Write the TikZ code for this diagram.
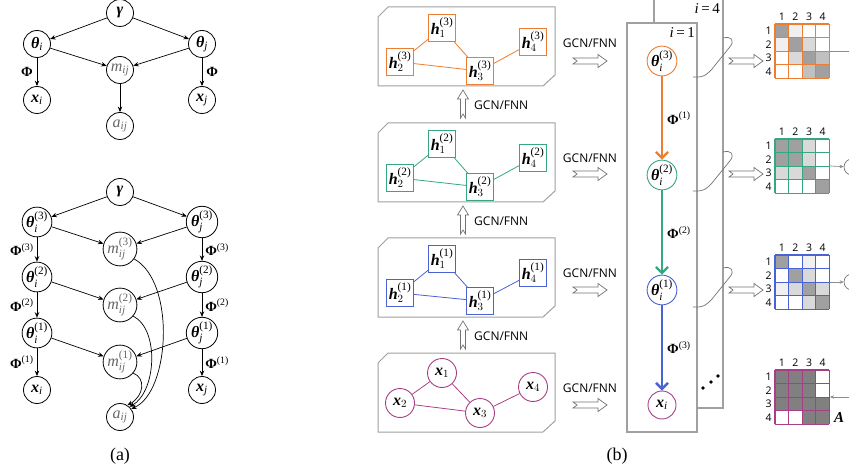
\documentclass[tikz,border=0pt]{standalone}
\usepackage{amsmath}
\usepackage{fontspec}
\setmainfont{Liberation Serif}
\newfontfamily\uisans{Open Sans}
\usetikzlibrary{arrows.meta}

% symbols set in the text face: bold italic vectors, italic indices
\newcommand\bv[1]{\text{\bfseries\itshape #1}}
\newcommand\tv[1]{\text{\itshape #1}}
\newcommand\bu[1]{\text{\bfseries #1}}
\newcommand\lay[1]{\text{(#1)}}

\definecolor{cor}{HTML}{ED7D31}
\definecolor{cgr}{HTML}{35A883}
\definecolor{cbl}{HTML}{4A62D2}
\definecolor{cpu}{HTML}{A83E86}
\definecolor{plate}{HTML}{A0A0A0}
\definecolor{mw}{HTML}{FFFFFF}
\definecolor{mv}{HTML}{F0F0F0}
\definecolor{ml}{HTML}{D9D9D9}
\definecolor{mm}{HTML}{C0C0C0}
\definecolor{md}{HTML}{A0A0A0}
\definecolor{mp}{HTML}{808080}

% 4x4 adjacency grid: #1 name, #2 x0, #3 y0, #4 colour, #5 cell fills
\newcommand\cellgrid[5]{%
  \foreach \fc [count=\k from 0] in {#5}{%
    \pgfmathtruncatemacro\rr{div(\k,4)}%
    \pgfmathtruncatemacro\cc{mod(\k,4)}%
    \fill[\fc] ({#2+\cc*13.6},{#3+\rr*13.6}) rectangle ++(13.6,13.6);
  }%
  \foreach \s in {0,...,4}{%
    \draw[draw=#4,line width=1.1pt] ({#2+\s*13.6},#3) -- ({#2+\s*13.6},{#3+54.4});
    \draw[draw=#4,line width=1.1pt] (#2,{#3+\s*13.6}) -- ({#2+54.4},{#3+\s*13.6});
  }%
  \foreach \j in {1,...,4}{%
    \node[idx] (#1c\j) at ({#2+(\j-0.5)*13.6},{#3-7.5}) {\j};
    \node[idx] (#1r\j) at ({#2-6.5},{#3+(\j-0.5)*13.6}) {\j};
  }%
}

\tikzset{
  pn/.style={circle,draw,line width=0.8pt,minimum size=27pt,inner sep=0pt,
    font=\fontsize{16}{16}\selectfont},
  gv/.style={text=black!60},
  ed/.style={-{Stealth[length=5.5pt,width=4.5pt]},line width=0.7pt},
  phil/.style={font=\fontsize{14}{14}\selectfont,inner sep=1pt},
  hb/.style={draw=#1,line width=0.9pt,fill=white,minimum size=27pt,inner sep=0pt,
    font=\fontsize{16}{16}\selectfont},
  xb/.style={circle,draw=#1,line width=0.9pt,fill=white,minimum size=29pt,inner sep=0pt,
    font=\fontsize{16}{16}\selectfont},
  tb/.style={circle,draw=#1,line width=0.9pt,fill=white,minimum size=28pt,inner sep=0pt,
    font=\fontsize{16}{16}\selectfont},
  gl/.style={draw=#1,line width=0.8pt},
  gbox/.style={draw=plate,line width=1pt},
  hollow/.style={draw=black!55,fill=white,line width=0.7pt},
  gcn/.style={font=\uisans\fontsize{12}{12}\selectfont,inner sep=0pt},
  idx/.style={font=\uisans\fontsize{10.5}{10.5}\selectfont,inner sep=0pt},
  bigar/.style={line width=2.4pt,draw=#1,-{Straight Barb[length=6pt,width=12pt]}},
  rarr/.pic={\draw[hollow] (0,-3) -- (25,-3) -- (25,-6.5) -- (34,0) -- (25,6.5)
      -- (25,3) -- (0,3) -- (4,0) -- cycle;},
  uarr/.pic={\draw[hollow] (-2.5,0) -- (-2.5,-19) -- (-5.5,-19) -- (0,-28)
      -- (5.5,-19) -- (2.5,-19) -- (2.5,0) -- (0,-4) -- cycle;},
}

\begin{document}
\begin{tikzpicture}[x=1pt,y=-1pt]
\useasboundingbox (0,0) rectangle (849,473);
\clip (0,0) rectangle (849,473);

% ---------------- (a) single-layer model ----------------
\node[pn] (g0) at (120,13) {$\bv{γ}$};
\node[pn] (ti0) at (37,44) {$\bv{θ}_{\tv{i}}$};
\node[pn] (tj0) at (202,44) {$\bv{θ}_{\tv{j}}$};
\node[pn,gv] (m0) at (120,70) {$\tv{m}_{\tv{ij}}$};
\node[pn] (xi0) at (37,100) {$\bv{x}_{\tv{i}}$};
\node[pn] (xj0) at (202,100) {$\bv{x}_{\tv{j}}$};
\node[pn,gv] (a0) at (120,126) {$\tv{a}_{\tv{ij}}$};
\draw[ed] (g0) -- (ti0);
\draw[ed] (g0) -- (tj0);
\draw[ed] (ti0) -- (m0);
\draw[ed] (tj0) -- (m0);
\draw[ed] (m0) -- (a0);
\draw[ed] (ti0) -- node[phil,left=3pt] (p0l) {$\bu{Φ}$} (xi0);
\draw[ed] (tj0) -- node[phil,right=3pt] (p0r) {$\bu{Φ}$} (xj0);

% ---------------- (a) multi-layer model ----------------
\node[pn] (g) at (120,192) {$\bv{γ}$};
\node[pn] (ti3) at (37,222) {$\bv{θ}_{\tv{i}}^{\lay{3}}$};
\node[pn] (tj3) at (202,222) {$\bv{θ}_{\tv{j}}^{\lay{3}}$};
\node[pn,gv] (m3) at (120,249) {$\tv{m}_{\tv{ij}}^{\lay{3}}$};
\node[pn] (ti2) at (37,277) {$\bv{θ}_{\tv{i}}^{\lay{2}}$};
\node[pn] (tj2) at (202,277) {$\bv{θ}_{\tv{j}}^{\lay{2}}$};
\node[pn,gv] (m2) at (120,305) {$\tv{m}_{\tv{ij}}^{\lay{2}}$};
\node[pn] (ti1) at (37,333) {$\bv{θ}_{\tv{i}}^{\lay{1}}$};
\node[pn] (tj1) at (202,333) {$\bv{θ}_{\tv{j}}^{\lay{1}}$};
\node[pn,gv] (m1) at (120,362) {$\tv{m}_{\tv{ij}}^{\lay{1}}$};
\node[pn] (xi) at (37,390) {$\bv{x}_{\tv{i}}$};
\node[pn] (xj) at (202,390) {$\bv{x}_{\tv{j}}$};
\node[pn,gv] (a) at (120,417) {$\tv{a}_{\tv{ij}}$};

\draw[ed] (g) -- (ti3);
\draw[ed] (g) -- (tj3);
\foreach \n in {3,2,1}{
  \draw[ed] (ti\n) -- (m\n);
  \draw[ed] (tj\n) -- (m\n);
}
\draw[ed] (ti3) -- node[phil,left=2pt] (pl3) {$\bu{Φ}^{\lay{3}}$} (ti2);
\draw[ed] (ti2) -- node[phil,left=2pt] (pl2) {$\bu{Φ}^{\lay{2}}$} (ti1);
\draw[ed] (ti1) -- node[phil,left=2pt] (pl1) {$\bu{Φ}^{\lay{1}}$} (xi);
\draw[ed] (tj3) -- node[phil,right=2pt] (pr3) {$\bu{Φ}^{\lay{3}}$} (tj2);
\draw[ed] (tj2) -- node[phil,right=2pt] (pr2) {$\bu{Φ}^{\lay{2}}$} (tj1);
\draw[ed] (tj1) -- node[phil,right=2pt] (pr1) {$\bu{Φ}^{\lay{1}}$} (xj);

\draw[ed] (m1.-40) .. controls (146,378) and (144,396) .. (a.58);
\draw[ed] (m2.-40) .. controls (160,330) and (156,392) .. (a.47);
\draw[ed] (m3.-35) .. controls (176,282) and (170,392) .. (a.36);

\node[font=\fontsize{18}{18}\selectfont] (capa) at (120,456) {(a)};

% ---------------- (b) layered graphs ----------------
\foreach \t in {7,123,238,353}{
  \draw[gbox] (388,\t) -- (555,\t) -- (555,\t+68) -- (543,\t+79) -- (378,\t+79)
    -- (378,\t+10) -- cycle;
}

% layer 3
\node[hb=cor] (h31) at (442,28) {$\bv{h}_{1}^{\lay{3}}$};
\node[hb=cor] (h32) at (400,62) {$\bv{h}_{2}^{\lay{3}}$};
\node[hb=cor] (h33) at (480,71) {$\bv{h}_{3}^{\lay{3}}$};
\node[hb=cor] (h34) at (533,42) {$\bv{h}_{4}^{\lay{3}}$};
% layer 2
\node[hb=cgr] (h21) at (442,144) {$\bv{h}_{1}^{\lay{2}}$};
\node[hb=cgr] (h22) at (400,178) {$\bv{h}_{2}^{\lay{2}}$};
\node[hb=cgr] (h23) at (480,187) {$\bv{h}_{3}^{\lay{2}}$};
\node[hb=cgr] (h24) at (533,158) {$\bv{h}_{4}^{\lay{2}}$};
% layer 1
\node[hb=cbl] (h11) at (442,259) {$\bv{h}_{1}^{\lay{1}}$};
\node[hb=cbl] (h12) at (400,293) {$\bv{h}_{2}^{\lay{1}}$};
\node[hb=cbl] (h13) at (480,301) {$\bv{h}_{3}^{\lay{1}}$};
\node[hb=cbl] (h14) at (533,273) {$\bv{h}_{4}^{\lay{1}}$};
% input graph
\node[xb=cpu] (x1) at (442,373) {$\bv{x}_{1}$};
\node[xb=cpu] (x2) at (400,403) {$\bv{x}_{2}$};
\node[xb=cpu] (x3) at (480,413) {$\bv{x}_{3}$};
\node[xb=cpu] (x4) at (533,387) {$\bv{x}_{4}$};

\foreach \l/\c in {3/cor,2/cgr,1/cbl}{
  \draw[gl=\c] (h\l1) -- (h\l2);
  \draw[gl=\c] (h\l1) -- (h\l3);
  \draw[gl=\c] (h\l2) -- (h\l3);
  \draw[gl=\c] (h\l3) -- (h\l4);
}
\draw[gl=cpu] (x1) -- (x2);
\draw[gl=cpu] (x1) -- (x3);
\draw[gl=cpu] (x2) -- (x3);
\draw[gl=cpu] (x3) -- (x4);

% upward transforms between layers
\pic at (463,118) {uarr};
\pic at (463,234) {uarr};
\pic at (463,349) {uarr};
\node[gcn,anchor=west] (u1) at (474,105) {GCN/FNN};
\node[gcn,anchor=west] (u2) at (474,221) {GCN/FNN};
\node[gcn,anchor=west] (u3) at (474,336) {GCN/FNN};

% rightward transforms
\foreach \ly/\ay [count=\q] in {43/61,158/174,273/290,388/405}{
  \node[gcn] (r\q) at (590,\ly) {GCN/FNN};
  \pic at (573,\ay) {rarr};
}

% ---------------- plates ----------------
\draw[draw=plate,line width=1.1pt] (654,-20) rectangle (723,408);
\draw[draw=plate,line width=1.1pt,fill=white] (627,23) rectangle (697,432);
\node[font=\fontsize{15}{15}\selectfont,anchor=east,inner sep=0pt] (i4) at (720,9) {\itshape i\,\upshape=\,4};
\node[font=\fontsize{15}{15}\selectfont,anchor=east,inner sep=0pt] (i1) at (695,33) {\itshape i\,\upshape=\,1};

\node[tb=cor] (pt3) at (662,61) {$\bv{θ}_{\tv{i}}^{\lay{3}}$};
\node[tb=cgr] (pt2) at (662,175) {$\bv{θ}_{\tv{i}}^{\lay{2}}$};
\node[tb=cbl] (pt1) at (662,290) {$\bv{θ}_{\tv{i}}^{\lay{1}}$};
\node[tb=cpu] (pxi) at (662,405) {$\bv{x}_{\tv{i}}$};
\draw[bigar=cor] (pt3) -- node[phil,right=3pt] (q1) {$\bu{Φ}^{\lay{1}}$} (pt2);
\draw[bigar=cgr] (pt2) -- node[phil,right=3pt] (q2) {$\bu{Φ}^{\lay{2}}$} (pt1);
\draw[bigar=cbl] (pt1) -- node[phil,right=3pt] (q3) {$\bu{Φ}^{\lay{3}}$} (pxi);

% further plates indicated by dots
\fill (703,388) circle (1.8) (711,382) circle (1.8) (718,376) circle (1.8);

% hooks from each layer to its output
\foreach \dy/\ay in {0/61,114/174,230/290}{
  \draw[draw=black!55,line width=0.7pt] (693,77+\dy) .. controls (705,78+\dy) and (708,73+\dy)
    .. (712,69+\dy) -- (729,48+\dy) .. controls (736,40+\dy) and (731,36+\dy) .. (723,38+\dy);
  \pic at (729,\ay) {rarr};
}

% ---------------- adjacency grids ----------------
\cellgrid{go}{775}{24}{cor}{md,mv,mw,mw, mv,md,ml,mw, mw,ml,md,mm, mw,mw,mm,md}
\cellgrid{gg}{775}{139}{cgr}{md,md,ml,mw, md,md,ml,mw, ml,ml,md,mw, mw,mw,mw,md}
\cellgrid{gb}{775}{255}{cbl}{md,mw,mv,mw, mw,md,ml,mw, mv,ml,md,ml, mw,mw,ml,md}
\cellgrid{gp}{775}{370}{cpu}{mp,mp,mp,mw, mp,mp,mp,mw, mp,mp,mp,mp, mw,mw,mp,mp}

\coordinate (eo) at (830,51);
\coordinate (eox) at (860,51);
\draw[draw=black!45,line width=0.7pt] (eo) -- (eox);
\node[circle,draw=black!55,line width=0.7pt,minimum size=16pt,inner sep=0pt] (opg) at (852,167) {};
\node[circle,draw=black!55,line width=0.7pt,minimum size=16pt,inner sep=0pt] (opb) at (852,282) {};
\fill[black!60] (opg.center) circle (1.3) (opb.center) circle (1.3);
\coordinate (eg) at (830,166);
\coordinate (eb) at (830,282);
\draw[draw=black!45,line width=0.7pt,-{Stealth[length=4pt,width=3.5pt]}] (eg) -- (opg);
\draw[draw=black!45,line width=0.7pt,-{Stealth[length=4pt,width=3.5pt]}] (eb) -- (opb);
\coordinate (ep) at (830,397);
\coordinate (epx) at (860,397);
\draw[draw=black!45,line width=0.7pt,-{Stealth[length=4pt,width=3.5pt]}] (epx) -- (ep);
\node[font=\fontsize{15}{15}\selectfont\bfseries\itshape,inner sep=0pt] (amat) at (839,418) {A};

\node[font=\fontsize{18}{18}\selectfont] (capb) at (617,456) {(b)};
\end{tikzpicture}
\end{document}
